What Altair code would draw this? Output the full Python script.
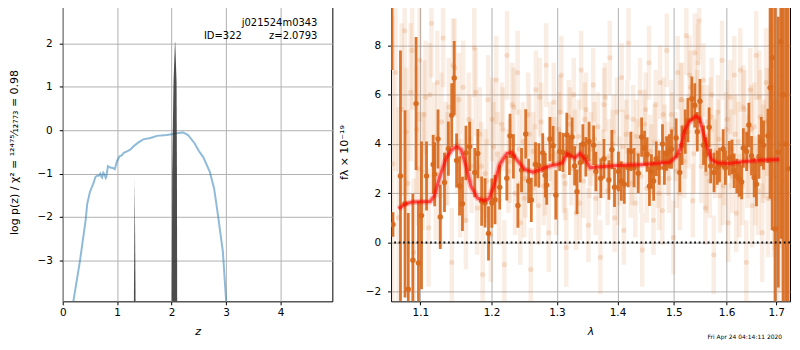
import altair as alt
import pandas as pd

# ---------------- left panel: log p(z) ----------------
pz_z = [0.17, 0.195, 0.316, 0.42, 0.45, 0.498, 0.571, 0.60, 0.633, 0.66, 0.69, 0.705,
        0.724, 0.745, 0.77, 0.79, 0.80, 0.83, 0.87, 0.92, 0.955, 0.998, 1.045, 1.08,
        1.12, 1.18, 1.24, 1.30, 1.35, 1.39, 1.48, 1.61, 1.73, 1.91, 2.06, 2.15, 2.21,
        2.30, 2.42, 2.50, 2.58, 2.70, 2.78, 2.85, 2.94, 3.00, 3.03]
pz_logp = [-4.3, -3.95, -3.02, -2.08, -1.70, -1.43, -1.20, -1.08, -1.05, -1.05, -1.00, -1.06,
           -1.09, -0.98, -1.03, -1.10, -1.08, -0.83, -0.86, -0.87, -0.90, -0.71, -0.60, -0.58,
           -0.52, -0.49, -0.45, -0.37, -0.32, -0.28, -0.21, -0.18, -0.13, -0.11, -0.08, -0.06, -0.05,
           -0.11, -0.30, -0.48, -0.62, -0.96, -1.35, -1.96, -2.80, -3.95, -4.30]

spike1_z = [1.304, 1.314, 1.322, 1.330, 1.340]
spike1_logp = [-4.5, -2.6, -1.11, -2.6, -4.5]
spike2_z = [2.000, 2.010, 2.034, 2.060, 2.066, 2.090, 2.097, 2.102]
spike2_logp = [-4.5, -1.0, 1.1, 2.03, 2.03, 1.1, -1.0, -4.5]

# ---------------- right panel: spectrum ----------------
faint_lam = [1.063, 1.067, 1.071, 1.075, 1.079, 1.083, 1.087, 1.091, 1.095, 1.099,
             1.103, 1.107, 1.111, 1.115, 1.119, 1.123, 1.127, 1.131, 1.135, 1.139,
             1.143, 1.147, 1.151, 1.155, 1.159, 1.163, 1.167, 1.171, 1.175, 1.179,
             1.183, 1.187, 1.191, 1.195, 1.199, 1.203, 1.207, 1.211, 1.215, 1.219,
             1.223, 1.227, 1.231, 1.235, 1.239, 1.243, 1.247, 1.251, 1.255, 1.259,
             1.263, 1.267, 1.271, 1.275, 1.279, 1.283, 1.287, 1.291, 1.295, 1.299,
             1.303, 1.307, 1.311, 1.315, 1.319, 1.323, 1.327, 1.331, 1.335, 1.339,
             1.343, 1.347, 1.351, 1.355, 1.359, 1.363, 1.367, 1.371, 1.375, 1.379,
             1.383, 1.387, 1.391, 1.395, 1.399, 1.403, 1.407, 1.411, 1.415, 1.419,
             1.423, 1.427, 1.431, 1.435, 1.439, 1.443, 1.447, 1.451, 1.455, 1.459,
             1.463, 1.467, 1.471, 1.475, 1.479, 1.483, 1.487, 1.491, 1.495, 1.499,
             1.503, 1.507, 1.511, 1.515, 1.519, 1.523, 1.527, 1.531, 1.535, 1.539,
             1.543, 1.547, 1.551, 1.555, 1.559, 1.563, 1.567, 1.571, 1.575, 1.579,
             1.583, 1.587, 1.591, 1.595, 1.599, 1.603, 1.607, 1.611, 1.615, 1.619,
             1.623, 1.627, 1.631, 1.635, 1.639, 1.643, 1.647, 1.651, 1.655, 1.659,
             1.663, 1.667, 1.671, 1.675, 1.679, 1.683, 1.687, 1.691, 1.695, 1.699,
             1.703, 1.707, 1.711, 1.715]
faint_f = [3.2, 6.9, 1.0, 5.4, 8.6, 2.4, 6.1, -0.4, 4.6, 7.4,
           2.9, 5.9, 0.6, 8.9, 4.3, 6.5, 1.9, 8.3, 3.6, 5.5,
           -0.8, 7.1, 4.0, 2.2, 6.3, 0.9, 5.0, 3.1, 7.9, 1.4,
           4.4, -1.3, 2.8, 5.8, 0.3, 3.9, 6.6, 1.7, 4.8, -0.9,
           7.6, 3.3, 5.6, 2.0, 6.9, 0.8, 4.1, 2.6, 5.2, -1.1,
           3.7, 6.2, 1.5, 4.9, 2.3, 7.2, 0.4, 3.5, 5.7, 1.9,
           4.6, 6.8, 2.7, -0.2, 5.1, 3.0, 6.0, 1.2, 4.3, 7.0,
           2.5, 5.4, 0.7, 3.8, 6.4, 1.8, 4.7, -0.6, 3.2, 5.9,
           2.1, 7.5, 4.0, 1.0, 5.3, 2.9, 6.7, 0.5, 4.4, 8.1,
           2.4, 5.0, 1.6, 3.6, 6.1, -0.3, 4.8, 2.2, 7.3, 3.4,
           0.9, 5.6, 2.8, 6.5, 1.3, 4.2, 7.8, 2.6, 5.2, 0.2,
           3.9, 6.9, 2.0, 5.8, 3.3, 8.4, 4.5, 6.3, 1.7, 7.7,
           5.5, 9.0, 3.1, 6.6, 1.4, 4.9, 2.5, 6.0, -0.5, 3.7,
           5.3, 1.9, 7.4, 3.0, 4.6, 0.8, 5.9, 2.7, 6.8, 1.2,
           4.1, 7.0, 2.3, 5.4, -0.8, 3.5, 6.2, 1.5, 4.7, 7.6,
           2.1, 5.1, 0.4, 3.8, 6.5, 1.8, 4.4, 7.2, 2.9, 5.7,
           0.6, 4.0, 6.8, 2.5]
faint_err = [6.0, 4.0, 4.5, 3.5, 3.2, 3.0, 2.8, 3.0, 2.6, 2.5,
             2.4, 2.3, 2.4, 2.2, 2.2, 2.1, 2.1, 2.0, 2.1, 2.0,
             2.2, 2.0, 2.0, 2.0, 1.9, 2.0, 1.9, 1.9, 2.0, 1.9,
             1.9, 2.0, 1.8, 1.8, 1.9, 1.8, 1.8, 1.8, 1.7, 1.8,
             1.8, 1.7, 1.7, 1.7, 1.7, 1.7, 1.6, 1.6, 1.7, 1.7,
             1.6, 1.6, 1.6, 1.6, 1.6, 1.7, 1.6, 1.6, 1.6, 1.6,
             1.5, 1.6, 1.5, 1.6, 1.5, 1.5, 1.5, 1.5, 1.5, 1.6,
             1.5, 1.5, 1.5, 1.5, 1.5, 1.5, 1.4, 1.5, 1.4, 1.4,
             1.4, 1.5, 1.4, 1.4, 1.4, 1.4, 1.4, 1.4, 1.4, 1.5,
             1.4, 1.4, 1.4, 1.4, 1.4, 1.5, 1.4, 1.4, 1.5, 1.4,
             1.4, 1.4, 1.4, 1.5, 1.4, 1.4, 1.5, 1.4, 1.4, 1.5,
             1.4, 1.5, 1.5, 1.5, 1.5, 1.6, 1.5, 1.5, 1.5, 1.6,
             1.5, 1.6, 1.5, 1.5, 1.5, 1.5, 1.5, 1.5, 1.6, 1.5,
             1.5, 1.5, 1.6, 1.5, 1.5, 1.6, 1.5, 1.5, 1.6, 1.6,
             1.6, 1.7, 1.6, 1.6, 1.7, 1.7, 1.7, 1.7, 1.8, 1.8,
             1.8, 1.9, 2.0, 2.0, 2.2, 2.4, 2.7, 3.0, 3.5, 4.0,
             5.0, 6.0, 7.0, 8.0]

faint2_lam = [1.081, 1.089, 1.097, 1.105, 1.113, 1.121, 1.129, 1.137, 1.145, 1.153,
              1.161, 1.169, 1.177, 1.185, 1.193, 1.201, 1.209, 1.217, 1.225, 1.233,
              1.241, 1.249, 1.257, 1.265, 1.273, 1.281, 1.289, 1.297, 1.305, 1.313,
              1.321, 1.329, 1.337, 1.345, 1.353, 1.361, 1.369, 1.377, 1.385, 1.393,
              1.401, 1.409, 1.417, 1.425, 1.433, 1.441, 1.449, 1.457, 1.465, 1.473,
              1.481, 1.489, 1.497, 1.505, 1.513, 1.521, 1.529, 1.537, 1.545, 1.553,
              1.561, 1.569, 1.577, 1.585, 1.593, 1.601, 1.609, 1.617, 1.625, 1.633,
              1.641, 1.649, 1.657, 1.665, 1.673, 1.681, 1.689, 1.697]
faint2_f = [4.5, 7.8, 3.0, 5.2, 6.0, 2.1, 4.9, 3.4, 7.2, 5.8,
            2.6, 4.2, 6.1, 3.1, 2.5, 5.0, 3.6, 4.6, 2.9, 5.5,
            3.8, 1.8, 4.4, 3.2, 5.9, 2.7, 4.1, 3.6, 5.3, 2.4,
            4.8, 3.9, 1.6, 5.0, 3.3, 4.2, 2.6, 5.6, 3.5, 4.5,
            2.2, 3.9, 5.1, 3.0, 4.3, 2.7, 5.4, 3.7, 4.1, 2.0,
            5.2, 3.4, 4.6, 2.9, 5.8, 4.2, 6.8, 3.6, 7.3, 4.8,
            2.8, 5.1, 3.4, 4.2, 2.3, 5.0, 3.8, 4.4, 1.9, 5.5,
            3.1, 4.6, 2.5, 5.9, 3.6, 4.9, 6.3, 2.7]
faint2_err = [2.6, 2.4, 2.3, 2.2, 2.1, 2.0, 2.0, 1.9, 1.9, 1.9,
              1.8, 1.8, 1.8, 1.8, 1.7, 1.7, 1.7, 1.7, 1.7, 1.6,
              1.6, 1.6, 1.6, 1.6, 1.6, 1.6, 1.6, 1.5, 1.5, 1.5,
              1.5, 1.5, 1.5, 1.5, 1.5, 1.5, 1.5, 1.5, 1.5, 1.5,
              1.5, 1.5, 1.5, 1.5, 1.5, 1.5, 1.5, 1.5, 1.5, 1.5,
              1.5, 1.5, 1.5, 1.5, 1.5, 1.6, 1.6, 1.6, 1.6, 1.6,
              1.6, 1.6, 1.6, 1.6, 1.6, 1.6, 1.6, 1.6, 1.7, 1.7,
              1.7, 1.8, 1.8, 1.9, 2.0, 2.2, 2.5, 3.0]

dark_lam = [1.0625, 1.0637, 1.0735, 1.0795, 1.0838, 1.0899, 1.0942, 1.0974, 1.1015, 1.1083,
            1.1173, 1.1194, 1.1240, 1.1271, 1.1329, 1.1383, 1.1430, 1.1465, 1.1498, 1.1540,
            1.1581, 1.1631, 1.1683, 1.1757, 1.1800, 1.1856, 1.1905, 1.1956, 1.2005, 1.2052,
            1.2121, 1.2227, 1.2275, 1.2326, 1.2394, 1.2449, 1.2513, 1.2558, 1.2599, 1.2664,
            1.2715, 1.2776, 1.2816, 1.2838, 1.2889, 1.2940, 1.2982, 1.3044, 1.3096, 1.3158,
            1.3201, 1.3244, 1.3285, 1.3323, 1.3376, 1.3419, 1.3468, 1.3521, 1.3597, 1.3635,
            1.3717, 1.3770, 1.3854, 1.3904, 1.3949, 1.4016, 1.4066, 1.4117, 1.4184, 1.4230,
            1.4287, 1.4360, 1.4419, 1.4471, 1.4516, 1.4558, 1.4593, 1.4633, 1.4680, 1.4733,
            1.4792, 1.4827, 1.4868, 1.4916, 1.4957, 1.5042, 1.5109, 1.5150, 1.5210, 1.5260,
            1.5333, 1.5388, 1.5436, 1.5486, 1.5555, 1.5597, 1.5661, 1.5691, 1.5755, 1.5818,
            1.5861, 1.5932, 1.5976, 1.6052, 1.6104, 1.6149, 1.6201, 1.6253, 1.6298, 1.6331,
            1.6396, 1.6441, 1.6495, 1.6548, 1.6594, 1.6647, 1.6693, 1.6739, 1.6828, 1.6874,
            1.6915, 1.6976, 1.7043, 1.7098, 1.7145, 1.7200, 1.7250]
dark_f = [11.5, 0.73, 2.70, 1.57, -1.90, -0.72, 5.64, -0.83, 1.10, 2.70,
          3.17, 2.77, 4.20, 1.04, 2.44, 3.81, 5.17, 6.68, 3.33, 2.30,
          1.57, 3.64, 3.90, 2.84, 3.61, 1.68, 1.61, 0.37, 1.60, 1.74,
          2.24, 2.61, 4.33, 3.50, 1.50, 2.94, 4.41, 2.50, 1.73, 3.17,
          3.13, 3.64, 2.73, 2.33, 4.20, 3.93, 1.93, 3.70, 3.66, 4.37,
          3.54, 4.28, 3.11, 2.06, 3.24, 4.00, 3.48, 4.10, 3.95, 2.88,
          2.61, 3.40, 2.54, 3.77, 2.24, 2.88, 2.50, 2.37, 3.04, 3.70,
          3.04, 2.81, 4.28, 3.84, 3.57, 2.28, 2.88, 2.50, 3.40, 3.04,
          4.00, 3.04, 3.61, 3.70, 3.79, 4.24, 2.84, 3.95, 4.50, 4.97,
          5.84, 5.57, 4.50, 5.74, 3.95, 3.57, 4.68, 3.11, 2.84, 3.04,
          3.15, 3.80, 3.04, 3.42, 3.47, 2.91, 2.70, 2.57, 2.46, 3.84,
          3.70, 4.77, 3.52, 2.64, 2.37, 3.49, 4.10, 3.95, 4.33, 6.28,
          7.50, 0.55, 3.67, 8.15, 6.00, 4.00, 3.00]
dark_err = [4.5, 0.5, 5.1, 3.8, 3.1, 2.7, 2.7, 2.5, 3.0, 1.4,
            1.2, 1.3, 1.2, 1.3, 1.2, 1.1, 1.3, 1.5, 1.1, 1.2,
            1.1, 1.1, 1.0, 1.0, 1.0, 1.0, 1.0, 1.1, 1.0, 1.0,
            0.9, 0.9, 0.9, 0.9, 0.9, 0.9, 1.0, 0.9, 0.9, 0.9,
            0.9, 0.8, 0.9, 0.8, 0.9, 0.8, 1.0, 0.8, 0.8, 0.9,
            0.8, 0.8, 0.8, 0.9, 0.8, 0.8, 0.8, 0.8, 0.8, 0.8,
            0.8, 0.8, 0.8, 0.8, 0.8, 0.8, 0.8, 0.8, 0.8, 0.8,
            0.8, 0.8, 0.8, 0.7, 0.7, 0.8, 0.7, 0.8, 0.7, 0.7,
            0.8, 0.7, 0.7, 0.7, 0.8, 0.8, 0.8, 0.8, 0.9, 0.9,
            0.9, 0.9, 0.8, 0.9, 0.8, 0.7, 0.8, 0.7, 0.8, 0.7,
            0.7, 0.8, 0.7, 0.7, 0.7, 0.7, 0.7, 0.7, 0.7, 0.8,
            0.8, 0.9, 0.8, 0.8, 0.9, 0.9, 1.0, 1.0, 1.1, 4.5,
            7.0, 9.0, 5.5, 8.0, 9.0, 10.0, 10.0]

model_lam = [1.0709, 1.0804, 1.0890, 1.1000, 1.1133, 1.1190, 1.1267, 1.1356, 1.1434, 1.1502,
             1.1562, 1.1631, 1.1701, 1.1796, 1.1890, 1.1962, 1.2035, 1.2121, 1.2227, 1.2299,
             1.2374, 1.2499, 1.2625, 1.2750, 1.2878, 1.3008, 1.3087, 1.3164, 1.3228, 1.3285,
             1.3376, 1.3456, 1.3538, 1.3672, 1.4000, 1.4462, 1.4926, 1.5046, 1.5122, 1.5199,
             1.5283, 1.5412, 1.5476, 1.5535, 1.5627, 1.5706, 1.5818, 1.6041, 1.6298, 1.6693,
             1.7064]
model_f = [1.37, 1.57, 1.64, 1.65, 1.66, 1.90, 2.70, 3.44, 3.77, 3.90,
           3.77, 3.10, 2.30, 1.80, 1.70, 1.77, 2.30, 3.17, 3.61, 3.66,
           3.37, 2.97, 2.86, 2.97, 3.10, 3.17, 3.24, 3.61, 3.50, 3.44,
           3.61, 3.37, 3.04, 3.07, 3.13, 3.17, 3.26, 3.50, 3.84, 4.57,
           4.90, 5.13, 5.04, 4.57, 3.84, 3.37, 3.24, 3.21, 3.28, 3.34,
           3.37]

left_xticks = [0, 1, 2, 3, 4]
left_yticks = [-3, -2, -1, 0, 1, 2]
right_xticks = [1.1, 1.2, 1.3, 1.4, 1.5, 1.6, 1.7]
right_yticks = [-2, 0, 2, 4, 6, 8]

ORANGE = "#d8691c"
FONT = "DejaVu Sans"
PLOT_H = 300

# ---------------- tables ----------------
pz_df = pd.DataFrame({"z": pz_z, "logp": pz_logp})
sp_df = pd.DataFrame({
    "z": spike1_z + spike2_z,
    "logp": spike1_logp + spike2_logp,
    "id": ["a"] * len(spike1_z) + ["b"] * len(spike2_z),
})
all_faint_lam = faint_lam + faint2_lam
all_faint_f = faint_f + faint2_f
all_faint_err = faint_err + faint2_err
faint_df = pd.DataFrame({
    "lam": all_faint_lam, "f": all_faint_f,
    "lo": [f - e for f, e in zip(all_faint_f, all_faint_err)],
    "hi": [f + e for f, e in zip(all_faint_f, all_faint_err)],
})
dark_df = pd.DataFrame({
    "lam": dark_lam, "f": dark_f,
    "lo": [f - e for f, e in zip(dark_f, dark_err)],
    "hi": [f + e for f, e in zip(dark_f, dark_err)],
})
model_df = pd.DataFrame({"lam": model_lam, "f": model_f})
one_df = pd.DataFrame({"k": [0]})

# ---------------- left panel ----------------
lx_scale = alt.Scale(domain=[0, 4.95], nice=False, zero=False)
ly_scale = alt.Scale(domain=[-3.95, 2.94], nice=False, zero=False)
lx_axis = alt.Axis(values=left_xticks, title="z", titleFontStyle="italic", format="d")
ly_axis = alt.Axis(values=left_yticks, format="d",
                   title="log p(z) / χ² = ¹²⁴⁷⁵⁄₁₂₇₇₃ = 0.98",
                   minExtent=29, maxExtent=29, titlePadding=14)

blue = alt.Chart(pz_df).mark_line(color="#1f77b4", opacity=0.5, strokeWidth=2, clip=True).encode(
    x=alt.X("z:Q", scale=lx_scale, axis=lx_axis),
    y=alt.Y("logp:Q", scale=ly_scale, axis=ly_axis),
)
spikes = alt.Chart(sp_df).mark_area(color="#333333", opacity=0.88, clip=True).encode(
    x=alt.X("z:Q", scale=lx_scale),
    y=alt.Y("logp:Q", scale=ly_scale),
    y2=alt.datum(-4.5),
    detail="id:N",
)


def label(txt, x, y, size=10):
    return alt.Chart(one_df).mark_text(text=txt, align="right", baseline="alphabetic",
                                       fontSize=size, font=FONT, color="black").encode(
        x=alt.value(x), y=alt.value(y))


t1 = label("j021524m0343", 256, 23)
t2 = label("ID=322", 180, 36)
t3 = label("z=2.0793", 256, 36)

left = alt.layer(blue, spikes, t1, t2, t3).properties(width=271, height=PLOT_H)

# ---------------- right panel ----------------
rx_scale = alt.Scale(type="log", domain=[1.0612, 1.729], nice=False, zero=False)
ry_scale = alt.Scale(domain=[-2.39, 9.73], nice=False, zero=False)
rx_axis = alt.Axis(values=right_xticks, title="λ", titleFontStyle="italic", format=".1f")
ry_axis = alt.Axis(values=right_yticks, format="d", title="fλ × 10⁻¹⁹",
                   minExtent=25, maxExtent=25, titlePadding=17)

fbars = alt.Chart(faint_df).mark_rule(color=ORANGE, opacity=0.12, strokeWidth=4.5, clip=True).encode(
    x=alt.X("lam:Q", scale=rx_scale, axis=rx_axis),
    y=alt.Y("lo:Q", scale=ry_scale, axis=ry_axis),
    y2="hi:Q",
)
fpts = alt.Chart(faint_df).mark_circle(color=ORANGE, opacity=0.18, size=26, clip=True).encode(
    x=alt.X("lam:Q", scale=rx_scale),
    y=alt.Y("f:Q", scale=ry_scale),
)
dbars = alt.Chart(dark_df).mark_rule(color=ORANGE, opacity=0.92, strokeWidth=2.8, clip=True).encode(
    x=alt.X("lam:Q", scale=rx_scale),
    y=alt.Y("lo:Q", scale=ry_scale),
    y2="hi:Q",
)
dpts = alt.Chart(dark_df).mark_circle(color=ORANGE, opacity=0.95, size=30, clip=True).encode(
    x=alt.X("lam:Q", scale=rx_scale),
    y=alt.Y("f:Q", scale=ry_scale),
)
glow = alt.Chart(model_df).mark_line(color="red", opacity=0.22, strokeWidth=6, clip=True).encode(
    x=alt.X("lam:Q", scale=rx_scale),
    y=alt.Y("f:Q", scale=ry_scale),
)
model = alt.Chart(model_df).mark_line(color="red", opacity=0.6, strokeWidth=3, clip=True).encode(
    x=alt.X("lam:Q", scale=rx_scale),
    y=alt.Y("f:Q", scale=ry_scale),
)
zero = alt.Chart(one_df).mark_rule(color="#111111", strokeWidth=1.8, strokeDash=[1.8, 2.7]).encode(
    y=alt.Y(datum=0, scale=ry_scale),
)
stamp = label("Fri Apr 24 04:14:11 2020", 393, 338, size=6)

right = alt.layer(fbars, fpts, dbars, dpts, glow, model, zero, stamp).properties(width=401, height=PLOT_H)

chart = alt.hconcat(left, right, spacing=4).properties(
    padding={"left": 0, "top": -7, "right": 0, "bottom": 0}
).configure(font=FONT).configure_view(
    stroke="black", strokeWidth=1
).configure_axis(
    labelFontSize=10.5, labelColor="black", labelFont=FONT, labelFlush=False, labelOverlap=False,
    tickColor="black", tickSize=3.5, tickWidth=1, domain=False,
    grid=True, gridColor="#b0b0b0", gridWidth=1,
    titleFontSize=11, titleFontWeight="normal", titleColor="black", titleFont=FONT,
).configure_axisX(labelPadding=3, titlePadding=7).configure_axisY(labelPadding=7)

chart.save("out.html", embed_options={"renderer": "svg", "actions": False})
